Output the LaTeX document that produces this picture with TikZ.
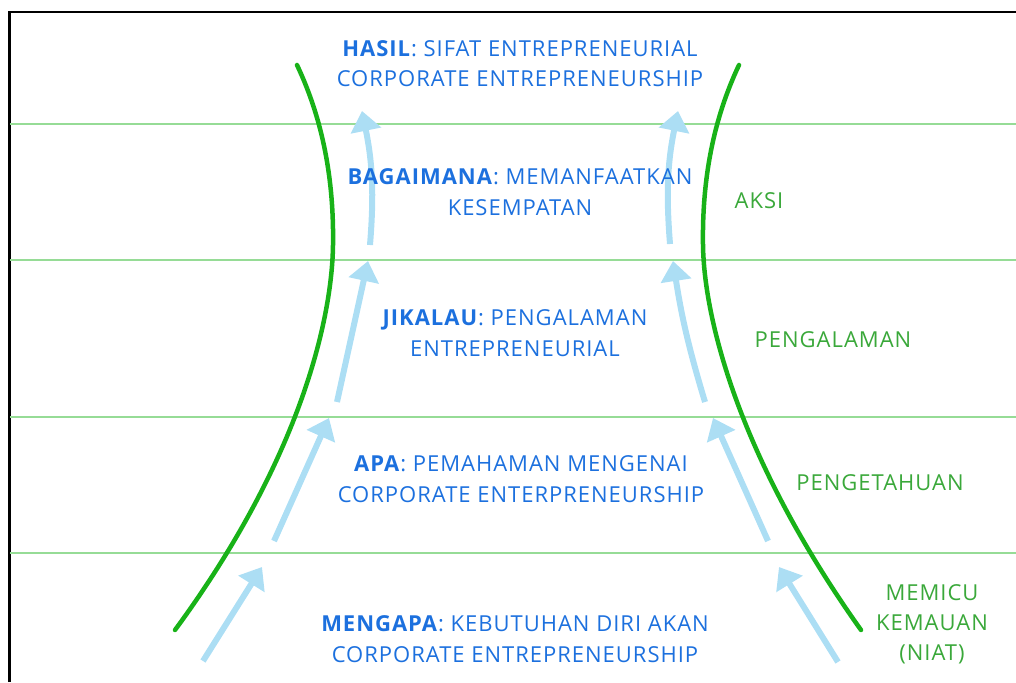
\documentclass[tikz,border=0pt]{standalone}
\usepackage{fontspec}
\setmainfont{Open Sans}[LetterSpace=4.5]
\usetikzlibrary{arrows.meta}
\definecolor{askblue}{RGB}{28,112,222}
\definecolor{phasegreen}{RGB}{58,168,58}
\definecolor{stagegreen}{RGB}{24,178,24}
\definecolor{levelgreen}{RGB}{150,220,150}
\definecolor{flowblue}{RGB}{172,222,244}

\begin{document}
\begin{tikzpicture}[x=1pt,y=-1pt,
  level/.style={draw=levelgreen,line width=1.3pt},
  stage/.style={draw=stagegreen,line width=4.5pt,line cap=round},
  flow/.style={draw=flowblue,line width=6pt,-{Triangle[length=20pt,width=30pt]}},
  ask/.style={text=askblue,align=center,anchor=base,font=\fontsize{22}{30.5}\selectfont},
  phase/.style={text=phasegreen,align=center,anchor=base,font=\fontsize{22}{30}\selectfont}]
  \useasboundingbox (0,0) rectangle (1016,682);
  \draw[line width=2.7pt] (9.7,682) -- (9.7,12) -- (1016,12);
  \foreach \y in {124,260,417,553}
    \draw[level] (10,\y) -- (1016,\y);

  \draw[stage] (297,65) .. controls (323,120) and (334,180) .. (333,245)
    .. controls (332,320) and (300,460) .. (175,630);
  \draw[stage] (739,65) .. controls (713,120) and (702,180) .. (703,245)
    .. controls (704,320) and (740,460) .. (861,630);

  \coordinate (l1a) at (203,661);  \coordinate (l1b) at (262,567);
  \coordinate (l2a) at (274,541);  \coordinate (l2b) at (329,418);
  \coordinate (l3a) at (337,402);  \coordinate (l3b) at (368,261);
  \coordinate (l4a) at (370,245);  \coordinate (l4b) at (362,111);
  \coordinate (r1a) at (838,662);  \coordinate (r1b) at (779,567);
  \coordinate (r2a) at (768,541);  \coordinate (r2b) at (713,418);
  \coordinate (r3a) at (705,402);  \coordinate (r3b) at (673,261);
  \coordinate (r4a) at (670,244);  \coordinate (r4b) at (678,111);
  \draw[flow] (l1a) -- (l1b);
  \draw[flow] (l2a) -- (l2b);
  \draw[flow] (l3a) -- (l3b);
  \draw[flow] (l4a) to[bend right=8] (l4b);
  \draw[flow] (r1a) -- (r1b);
  \draw[flow] (r2a) -- (r2b);
  \draw[flow] (r3a) to[bend left=4] (r3b);
  \draw[flow] (r4a) to[bend left=8] (r4b);

  \node[ask] (hasil) at (520,87) {\textbf{HASIL}: SIFAT ENTREPRENEURIAL\\CORPORATE ENTREPRENEURSHIP};
  \node[ask] (bagaimana) at (520,215) {\textbf{BAGAIMANA}: MEMANFAATKAN\\KESEMPATAN};
  \node[ask] (jikalau) at (515,356) {\textbf{JIKALAU}: PENGALAMAN\\ENTREPRENEURIAL};
  \node[ask] (apa) at (521,502) {\textbf{APA}: PEMAHAMAN MENGENAI\\CORPORATE ENTERPRENEURSHIP};
  \node[ask] (mengapa) at (515,662) {\textbf{MENGAPA}: KEBUTUHAN DIRI AKAN\\CORPORATE ENTREPRENEURSHIP};

  \node[phase] (aksi) at (759,208) {AKSI};
  \node[phase] (pengalaman) at (833,347) {PENGALAMAN};
  \node[phase] (pengetahuan) at (880,490) {PENGETAHUAN};
  \node[phase] (niat) at (932,660) {MEMICU\\KEMAUAN\\(NIAT)};
\end{tikzpicture}
\end{document}
